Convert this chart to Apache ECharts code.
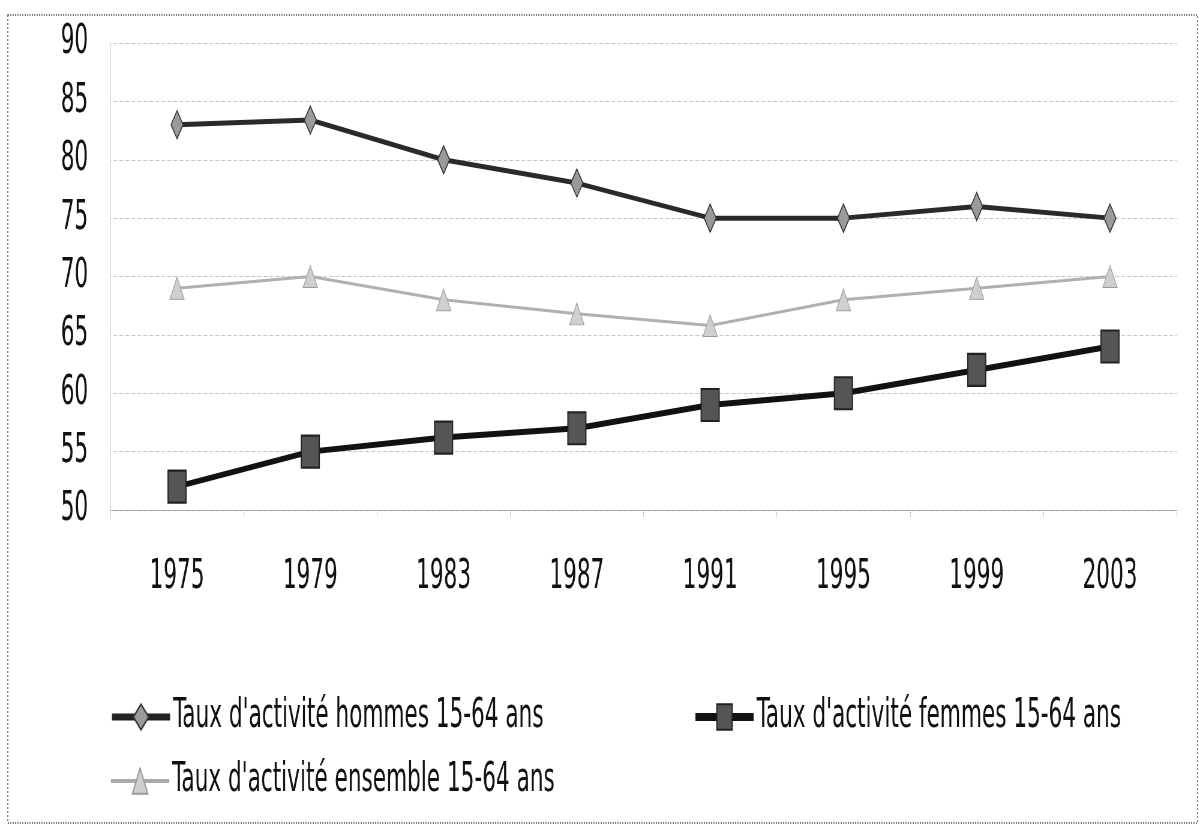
<!DOCTYPE html>
<html>
<head>
<meta charset="utf-8">
<script src="https://cdn.jsdelivr.net/npm/echarts@6/dist/echarts.min.js"></script>
<style>
html,body{margin:0;padding:0;background:#fff;overflow:hidden;}
#wrap{width:1204px;height:825px;overflow:hidden;position:relative;}
#chart{width:2007px;height:825px;transform:scaleX(0.6);transform-origin:0 0;}
</style>
</head>
<body>
<div id="wrap"><div id="chart"></div></div>
<script>
const years = ['1975', '1979', '1983', '1987', '1991', '1995', '1999', '2003'];
const hommes = [83, 83.4, 80, 78, 75, 75, 76, 75];
const femmes = [52, 55, 56.2, 57, 59, 60, 62, 64];
const ensemble = [69, 70, 68, 66.8, 65.8, 68, 69, 70];
const seriesNames = [
  "Taux d'activité hommes 15-64 ans",
  "Taux d'activité femmes 15-64 ans",
  "Taux d'activité ensemble 15-64 ans"
];

const FONT = "'Liberation Sans Narrow', 'DejaVu Sans Condensed', sans-serif";
const chart = echarts.init(document.getElementById('chart'), null, {renderer: 'canvas'});

const legendText = {fontFamily: FONT, fontSize: 40, color: '#111'};
chart.setOption({
  backgroundColor: '#fff',
  animation: false,
  graphic: [{
    type: 'rect',
    shape: {x: 13, y: 15, width: 1983, height: 808},
    style: {fill: 'none', stroke: '#555', lineWidth: 1.5, lineDash: [2, 2]},
    silent: true
  }],
  grid: {left: 184, right: 46, top: 43, bottom: 315, containLabel: false},
  xAxis: {
    type: 'category',
    data: years,
    boundaryGap: true,
    axisLine: {show: true, lineStyle: {color: '#999', width: 1, type: 'dotted'}},
    axisTick: {show: true, length: 7, lineStyle: {color: '#999', type: 'dotted'}},
    axisLabel: {fontFamily: FONT, fontSize: 40, color: '#111', margin: 48}
  },
  yAxis: {
    type: 'value',
    min: 50, max: 90, interval: 5,
    axisLine: {show: true, lineStyle: {color: '#ccc', type: 'dotted'}},
    axisTick: {show: false},
    splitLine: {show: true, lineStyle: {color: '#b5b5b5', width: 1, type: 'dotted'}},
    axisLabel: {fontFamily: FONT, fontSize: 40, color: '#111', margin: 37}
  },
  legend: [
    {data: [seriesNames[0]], left: 178, top: 692, itemWidth: 97, itemHeight: 32, textStyle: legendText,
     lineStyle: {width: 7, color: '#222'}},
    {data: [seriesNames[1]], left: 1150, top: 692, itemWidth: 97, itemHeight: 32, textStyle: legendText,
     lineStyle: {width: 8, color: '#111'}},
    {data: [seriesNames[2]], left: 178, top: 756, itemWidth: 97, itemHeight: 32, textStyle: legendText,
     lineStyle: {width: 4, color: '#aaa'}}
  ],
  series: [
    {
      name: seriesNames[0], type: 'line', data: hommes,
      symbol: 'diamond', symbolSize: [20, 28],
      lineStyle: {color: '#2a2a2a', width: 5},
      itemStyle: {color: '#9a9a9a', borderColor: '#333', borderWidth: 1.5},
      z: 3
    },
    {
      name: seriesNames[1], type: 'line', data: femmes,
      symbol: 'rect', symbolSize: [30, 32],
      lineStyle: {color: '#111', width: 6},
      itemStyle: {color: '#555', borderColor: '#222', borderWidth: 2},
      z: 3
    },
    {
      name: seriesNames[2], type: 'line', data: ensemble,
      symbol: 'triangle', symbolSize: [24, 22],
      lineStyle: {color: '#b0b0b0', width: 3},
      itemStyle: {color: '#cfcfcf', borderColor: '#9a9a9a', borderWidth: 1},
      z: 2
    }
  ]
});
</script>
</body>
</html>
